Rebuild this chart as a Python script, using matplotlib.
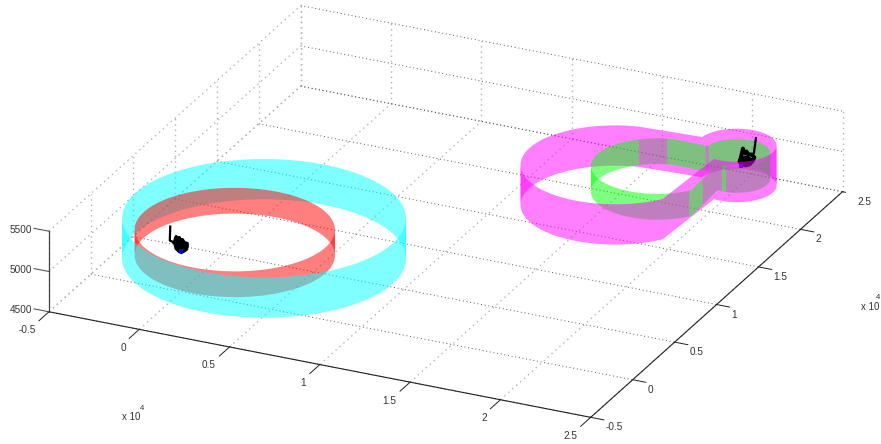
import numpy as np
import matplotlib
matplotlib.use('Agg')
import matplotlib.pyplot as plt
from mpl_toolkits.mplot3d.art3d import Poly3DCollection
from mpl_toolkits.mplot3d import proj3d

# tick values, x and y are in units of 10^4
x_ticks = [-0.5, 0, 0.5, 1, 1.5, 2, 2.5]
y_ticks = [-0.5, 0, 0.5, 1, 1.5, 2, 2.5]
z_ticks = [4500, 5000, 5500]
x_labels = ['-0.5', '0', '0.5', '1', '1.5', '2', '2.5']
y_labels = ['-0.5', '0', '0.5', '1', '1.5', '2', '2.5']
z_labels = ['4500', '5000', '5500']

# left course: two circular walls
cyan_center = (0.31, 0.32)
cyan_radius = 0.713
cyan_z = (4750, 5250)
red_center = (0.198, 0.2125)
red_radius = 0.503
red_z = (4840, 5160)

# right course: small arc + big arc joined by straight pieces
mag_cx = [2.09, 1.636]
mag_cy = [2.122, 1.650]
mag_r = [0.20, 0.475]
mag_start = [-100, 100]
mag_end = [175, 325]
mag_z = (4750, 5250)
green_cx = [2.093, 1.799]
green_cy = [2.117, 1.806]
green_r = [0.168, 0.335]
green_start = [-100, 100]
green_end = [175, 325]
green_z = (4840, 5160)

# robots: start marker, finger line and scribbled body
robot1_start = (0.0, 0.0, 5000)
robot1_finger_x = [-.050, -.052, -.032]
robot1_finger_y = [-.023, -.024, -.015]
robot1_finger_z = [5309, 5136, 5111]
robot1_x = [-.032, -.027, -.023, -.018, -.009, -.005, .005, .014, .027, .027, .023, .009, 0, -.009, -.023, -.027, -.014, 0, .014, .014, 0, -.014, -.014, 0]
robot1_y = [-.015, -.013, -.011, -.009, -.004, -.002, .002, .006, .013, .013, .011, .004, 0, -.004, -.011, -.013, -.006, 0, .006, .006, 0, -.006, -.006, 0]
robot1_z = [5111, 5148, 5185, 5136, 5173, 5136, 5148, 5111, 5099, 5062, 5025, 5000, 4988, 5000, 5037, 5086, 5111, 5111, 5074, 5037, 5037, 5049, 5086, 5074]
robot2_start = (2.11, 2.124, 5000)
robot2_finger_x = [.070, .061, .054]
robot2_finger_y = [.033, .029, .026]
robot2_finger_z = [5346, 5161, 5136]
robot2_x = [0, .005, .011, .018, .027, .036, .050, .063, .054, .041, .023, .005, -.005, .009, .027, .045, .041, .023, .014, .027]
robot2_y = [0, .002, .005, .009, .013, .017, .023, .030, .026, .019, .011, .002, -.002, .004, .013, .021, .019, .011, .006, .013]
robot2_z = [5093, 5143, 5217, 5155, 5180, 5143, 5143, 5106, 5056, 5019, 5007, 5019, 5056, 5093, 5106, 5081, 5044, 5044, 5069, 5081]

# screen columns (px) where the renderer swapped green and magenta
green_under_bands = [(640, 668), (706.7, 710)]
green_over_bands = [(690, 704), (723, 727)]

# pixels per unit of the projected axes, used for the column bands
X_PX = 543 / 3
Y_PX = 253 / 3


def circle_path(center, radius):
    t = np.radians(np.linspace(0, 360, 721))
    return center[0] + radius * np.cos(t), center[1] + radius * np.sin(t)


def track_path(cx, cy, r, start, end):
    # two arcs counter clockwise, straight pieces closing the gaps
    xs, ys = [], []
    for i in range(len(cx)):
        t = np.radians(np.linspace(start[i], end[i], 500))
        xs.append(cx[i] + r[i] * np.cos(t))
        ys.append(cy[i] + r[i] * np.sin(t))
    px = [xs[0]]
    py = [ys[0]]
    px.append(np.linspace(xs[0][-1], xs[1][0], 200)[1:-1])
    py.append(np.linspace(ys[0][-1], ys[1][0], 200)[1:-1])
    px.append(xs[1])
    py.append(ys[1])
    px.append(np.linspace(xs[1][-1], xs[0][0], 200)[1:])
    py.append(np.linspace(ys[1][-1], ys[0][0], 200)[1:])
    return np.concatenate(px), np.concatenate(py)


def front_mask(px, py):
    # facet i joins point i and i+1, path is counter clockwise
    dx = np.diff(px)
    dy = np.diff(py)
    cam_x, cam_y = np.sin(np.radians(25)), -np.cos(np.radians(25))
    return dy * cam_x - dx * cam_y > 0


def band_mask(px, py, bands):
    u = 48 + X_PX * (px + 0.5) + Y_PX * (py + 0.5)
    mid = 0.5 * (u[:-1] + u[1:])
    mask = np.zeros(len(mid), dtype=bool)
    for lo, hi in bands:
        mask |= (mid > lo) & (mid < hi)
    return mask


def wall_polys(px, py, mask, z):
    # one polygon per run of facets, so no seams appear between facets
    n = len(mask)
    if mask.all():
        idx = list(range(n + 1))
        top = [(px[m], py[m], z[1]) for m in idx]
        bot = [(px[m], py[m], z[0]) for m in idx]
        return [top + bot[::-1]]
    first = int(np.argmin(mask))
    runs = []
    i = 0
    while i < n:
        k = (first + i) % n
        if mask[k]:
            j = i
            while j + 1 < n and mask[(first + j + 1) % n]:
                j += 1
            runs.append((i, j))
            i = j + 1
        else:
            i += 1
    out = []
    for a, b in runs:
        idx = [(first + m) % n for m in range(a, b + 1)]
        idx.append(idx[-1] + 1)
        top = [(px[m], py[m], z[1]) for m in idx]
        bot = [(px[m], py[m], z[0]) for m in idx]
        out.append(top + bot[::-1])
    return out


def add_wall(ax, polys, color, order):
    if not polys:
        return
    coll = Poly3DCollection(polys, facecolors=[color + (0.5,)], edgecolors='none', linewidths=0, zorder=order)
    ax.add_collection3d(coll, autolim=False)


def tick_label(ax, x, y, z, s, dx, dy, ha):
    # label stays in data position, moved by a few pixels
    x2, y2, _ = proj3d.proj_transform(x, y, z, ax.get_proj())
    ax.annotate(s, xy=(x2, y2), xycoords='data', xytext=(dx, dy), textcoords='offset pixels',
                ha=ha, va='center', fontsize=7.2, family='Liberation Sans', color='#333333', zorder=21)


fig = plt.figure(figsize=(8.81, 4.44), dpi=100)
# square panel placed so the box lands on the reference pixels
ax = fig.add_axes([22.7 / 881, -190.5 / 444, 823.8 / 881, 823.8 / 444], projection='3d', proj_type='ortho', computed_zorder=False)
ax.set_box_aspect((600, 598, 89))
ax.view_init(elev=24.7, azim=-65)
ax.set_axis_off()
ax.set_xlim(-0.5, 2.5, view_margin=0)
ax.set_ylim(-0.5, 2.5, view_margin=0)
ax.set_zlim(4500, 5500, view_margin=0)

# grid on floor and two back walls, steep lines come out paler
dots = (0, (1, 2.8))
pale = '#b4b4b4'
dark = '#5a5a5a'
for t in x_ticks:
    ax.plot([t, t], [-0.5, 2.5], [4500, 4500], color=pale, lw=1.0, ls=dots, zorder=1)
    ax.plot([t, t], [2.5, 2.5], [4500, 5500], color=pale, lw=1.0, ls=dots, zorder=1)
for t in y_ticks:
    ax.plot([-0.5, 2.5], [t, t], [4500, 4500], color=dark, lw=0.7, ls=dots, zorder=1)
    ax.plot([-0.5, -0.5], [t, t], [4500, 5500], color=pale, lw=1.0, ls=dots, zorder=1)
for t in z_ticks:
    ax.plot([-0.5, -0.5], [-0.5, 2.5], [t, t], color=pale, lw=1.0, ls=dots, zorder=1)
    ax.plot([-0.5, 2.5], [2.5, 2.5], [t, t], color=dark, lw=0.7, ls=dots, zorder=1)

# left course
cyan_col = (0.0, 1.0, 1.0)
red_col = (1.0, 0.0, 0.0)
mag_col = (1.0, 0.0, 1.0)
green_col = (0.0, 1.0, 0.0)

cx, cy = circle_path(cyan_center, cyan_radius)
rx, ry = circle_path(red_center, red_radius)
cyan_front = front_mask(cx, cy)
red_front = front_mask(rx, ry)
add_wall(ax, wall_polys(cx, cy, ~cyan_front, cyan_z), cyan_col, 2)
add_wall(ax, wall_polys(rx, ry, ~red_front, red_z), red_col, 3)
add_wall(ax, wall_polys(rx, ry, red_front, red_z), red_col, 4)
add_wall(ax, wall_polys(cx, cy, cyan_front, cyan_z), cyan_col, 5)

ax.plot(robot1_finger_x, robot1_finger_y, robot1_finger_z, color='black', lw=1.6, zorder=6)
ax.plot(robot1_x, robot1_y, robot1_z, color='black', lw=2.4, zorder=6)
ax.plot([robot1_start[0]], [robot1_start[1]], [robot1_start[2]], 's', color='#0000ff', ms=2.5, mew=0, zorder=6)

# right course
mx, my = track_path(mag_cx, mag_cy, mag_r, mag_start, mag_end)
gx, gy = track_path(green_cx, green_cy, green_r, green_start, green_end)
mag_front = front_mask(mx, my)
green_front = front_mask(gx, gy)
under = band_mask(gx, gy, green_under_bands)
over = band_mask(gx, gy, green_over_bands)

add_wall(ax, wall_polys(gx, gy, ~green_front & under, green_z), green_col, 7)
add_wall(ax, wall_polys(mx, my, ~mag_front, mag_z), mag_col, 8)
add_wall(ax, wall_polys(gx, gy, ~green_front & ~under, green_z), green_col, 9)
add_wall(ax, wall_polys(gx, gy, green_front & ~over, green_z), green_col, 10)

ax.plot(np.array(robot2_finger_x) + robot2_start[0], np.array(robot2_finger_y) + robot2_start[1], robot2_finger_z, color='black', lw=1.6, zorder=11)
ax.plot(np.array(robot2_x) + robot2_start[0], np.array(robot2_y) + robot2_start[1], robot2_z, color='black', lw=2.8, zorder=11)
ax.plot([robot2_start[0]], [robot2_start[1]], [robot2_start[2]], 's', color='#0000ff', ms=2.5, mew=0, zorder=11)

add_wall(ax, wall_polys(mx, my, mag_front, mag_z), mag_col, 12)
add_wall(ax, wall_polys(gx, gy, green_front & over, green_z), green_col, 13)

# axis lines and ticks
ink = '#222222'
ax.plot([-0.5, 2.5], [-0.5, -0.5], [4500, 4500], color=ink, lw=0.8, zorder=20)
ax.plot([2.5, 2.5], [-0.5, 2.5], [4500, 4500], color=ink, lw=0.8, zorder=20)
ax.plot([-0.5, -0.5], [-0.5, -0.5], [4500, 5500], color='#444444', lw=0.9, zorder=20)
for t, s in zip(x_ticks, x_labels):
    ax.plot([t, t], [-0.5, -0.62], [4500, 4500], color=ink, lw=0.7, zorder=20)
    tick_label(ax, t, -0.5, 4500, s, -13.5, -18.5, 'right')
for t, s in zip(y_ticks, y_labels):
    ax.plot([2.5, 2.573], [t, t], [4500, 4500], color=ink, lw=0.7, zorder=20)
    tick_label(ax, 2.5, t, 4500, s, 15, -10, 'left')
for t, s in zip(z_ticks, z_labels):
    ax.plot([-0.5, -0.583], [-0.5, -0.5], [t, t], color='#444444', lw=0.7, zorder=20)
    tick_label(ax, -0.5, -0.5, t, s, -17, 1.5, 'right')

# exponent labels of x and y axes
fig.text(131 / 881, 1 - 417 / 444, 'x 10', ha='center', va='center', fontsize=7, family='Liberation Sans', color='#333333')
fig.text(142 / 881, 1 - 408 / 444, '4', ha='center', va='center', fontsize=5.5, family='Liberation Sans', color='#333333')
fig.text(870 / 881, 1 - 307 / 444, 'x 10', ha='center', va='center', fontsize=7, family='Liberation Sans', color='#333333')
fig.text(878 / 881, 1 - 297 / 444, '4', ha='center', va='center', fontsize=5.5, family='Liberation Sans', color='#333333')

fig.savefig('out.png', dpi=100)
